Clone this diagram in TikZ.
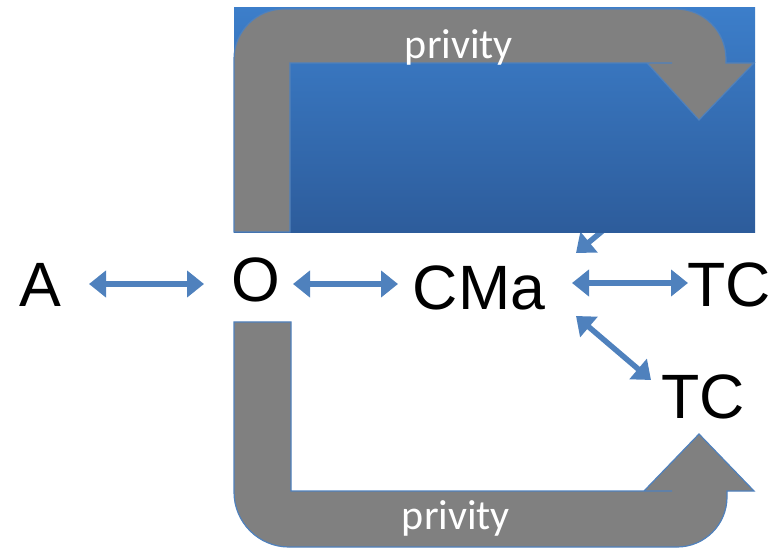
\documentclass[tikz,border=0pt]{standalone}
\usepackage{fontspec}
\setmainfont{Liberation Sans}
\newfontfamily\privfont{Carlito}
\usetikzlibrary{arrows.meta}
\definecolor{arrblue}{RGB}{79,129,189}
\definecolor{bgtop}{RGB}{60,126,202}
\definecolor{bgbot}{RGB}{45,92,155}
\definecolor{bentgrey}{RGB}{128,128,128}
\begin{document}
\begin{tikzpicture}[x=0.75pt,y=-0.75pt,
  lbl/.style={font=\fontsize{47}{47}\selectfont, inner sep=0pt},
  privlbl/.style={font=\privfont\fontsize{31.5}{32}\selectfont, text=white, inner sep=0pt},
  tipa/.tip={Triangle[length=12.75pt,width=19.5pt]},
  link/.style={draw=arrblue, line width=4.1pt, tipa-tipa},
  onelink/.style={draw=arrblue, line width=4.1pt, -tipa},
  bent/.style={fill=bentgrey, draw=arrblue, line width=0.9pt, line join=miter}]
\useasboundingbox (0,0) rectangle (777,548);
% hidden arrow behind the panel
\coordinate (hs) at (624,213);
\coordinate (ht) at (576,253);
\draw[onelink] (hs) -- (ht);
% panel
\shade[top color=bgtop, bottom color=bgbot] (234,8) rectangle (755,233);
% top bent arrow
\draw[bent] (234,232) -- (234,59) .. controls (234,31.4) and (256.4,9) .. (284,9)
  -- (676,9) .. controls (703.6,9) and (726,31.4) .. (726,59) -- (726,63)
  -- (754,63) -- (699,120) -- (647,63) -- (672,63) -- (290,63) -- (290,232) -- cycle;
% bottom bent arrow
\draw[bent] (234,322) -- (291,322) -- (291,491) -- (672,491) -- (644,491)
  -- (699,434) -- (754,491) -- (727,491) -- (727,497)
  .. controls (727,524.6) and (704.6,547) .. (677,547) -- (289,547)
  .. controls (258.6,547) and (234,522.4) .. (234,492) -- cycle;
\node[privlbl] (p1) at (459,47) {privity};
\node[privlbl] (p2) at (456,518) {privity};
% labels
\node[lbl] (A) at (40,285) {A};
\node[lbl] (O) at (256,280) {O};
\node[lbl] (CMa) at (479,288) {CMa};
\node[lbl] (TC1) at (729,285) {TC};
\node[lbl] (TC2) at (703,397) {TC};
% connector end points
\coordinate (aO1) at (89,284);
\coordinate (aO2) at (204,284);
\coordinate (oC1) at (293,284);
\coordinate (oC2) at (398,284);
\coordinate (cT1) at (572,283);
\coordinate (cT2) at (688,283);
\coordinate (cD1) at (576,316);
\coordinate (cD2) at (651,380);
\draw[link] (aO1) -- (aO2);
\draw[link] (oC1) -- (oC2);
\draw[link] (cT1) -- (cT2);
\draw[link] (cD1) -- (cD2);
\end{tikzpicture}
\end{document}
